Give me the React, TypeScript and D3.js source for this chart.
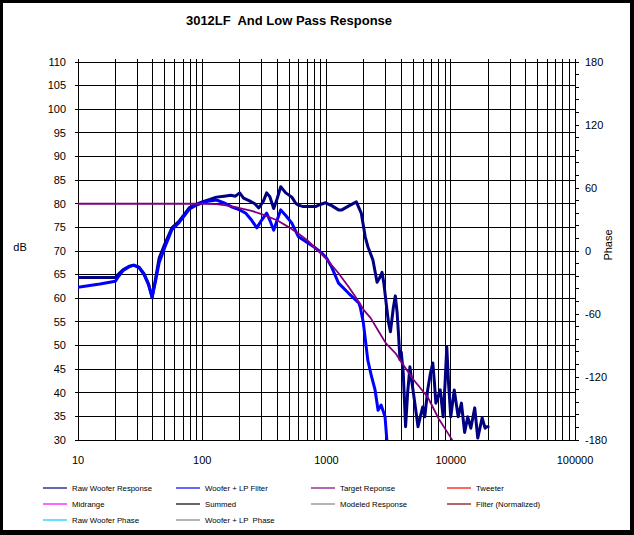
import React from "react";
import * as d3 from "d3";

if (typeof document !== "undefined") {
  document.body.style.margin = "0";
}

const W = 634;
const H = 535;

// ---------- data ----------
const rawWooferResponse: [number, number][] = [
  [10, 64.4], [20, 64.4], [21, 65], [23, 66], [26, 66.8], [28, 67], [31, 66.6], [34, 65.2],
  [37, 63], [39.5, 60.1], [42, 64], [45, 68.5], [50, 71.5], [57, 74.9], [65, 76.3], [72, 77.8],
  [79, 79.2], [88, 79.8], [100, 80.4], [115, 80.9], [130, 81.4], [150, 81.6], [170, 81.8],
  [185, 81.6], [200, 82.3], [215, 81.2], [240, 80.6], [265, 80], [285, 79.1], [310, 80.5],
  [330, 82.3], [350, 81.5], [376, 79], [400, 81], [428, 83.6], [470, 82.3], [526, 81.4],
  [565, 80.1], [595, 79.7], [650, 79.4], [750, 79.4], [815, 79.4], [900, 79.9], [982, 80.2],
  [1100, 79.6], [1250, 78.7], [1330, 78.7], [1500, 79.5], [1738, 80.4], [1905, 78], [2050, 73],
  [2154, 70.9], [2364, 68.1], [2552, 63.4], [2700, 64.5], [2800, 65.5], [2900, 63], [3020, 59],
  [3150, 55], [3270, 52.9], [3450, 58], [3580, 60.5], [3700, 57], [3780, 53.3], [3900, 47],
  [4000, 48.6], [4150, 44], [4330, 32.8], [4500, 40], [4690, 45.5], [4880, 42], [5060, 39.1],
  [5250, 36], [5450, 32.8], [5700, 35], [5950, 37], [6180, 34.9], [6520, 40.6], [6850, 44],
  [7170, 46.3], [7400, 42], [7590, 37.8], [8230, 40.6], [8690, 34.9], [9000, 42], [9290, 49.7],
  [9600, 42], [10000, 34.9], [10670, 40.6], [11480, 34.9], [12190, 37.8], [12930, 31.6],
  [13700, 34.9], [14500, 32.5], [15600, 36.8], [16500, 30.4], [17900, 34.7], [18900, 32.5],
  [19400, 32.8], [20000, 32.8],
];

const wooferLPFilter: [number, number][] = [
  [10, 62.3], [15, 63], [20, 63.6], [21, 64.5], [23, 65.8], [26, 66.7], [28, 67], [31, 66.5],
  [34, 65], [37, 62.8], [39.5, 60.3], [42, 63.5], [45, 67.5], [50, 70.8], [57, 74.5], [65, 76],
  [72, 77.5], [79, 78.9], [88, 79.6], [100, 80.2], [115, 80.6], [130, 80.8], [150, 80.2],
  [174, 79.3], [200, 78.7], [224, 78], [250, 76.5], [275, 74.9], [300, 76.5], [330, 78],
  [350, 76.5], [376, 74.4], [400, 76.5], [428, 78.7], [470, 77.5], [526, 75.9], [595, 73],
  [680, 72], [800, 70.8], [913, 69.6], [1000, 68.5], [1100, 66.6], [1250, 63.2], [1500, 61.1],
  [1820, 59], [1870, 58.1], [1980, 54.8], [2150, 46.9], [2300, 43.5], [2460, 40.6],
  [2600, 36.3], [2750, 37.4], [2960, 34.9], [3100, 28],
];

const targetResponse: [number, number][] = [
  [10, 80], [50, 80], [100, 80], [130, 79.9], [160, 79.6], [200, 79.1], [250, 78.5],
  [300, 77.8], [400, 76.5], [500, 75], [600, 73.6], [700, 72.3], [860, 70], [1000, 68.3],
  [1250, 65.3], [1500, 62.5], [1710, 60.3], [2000, 57.5], [2270, 55.8], [2700, 52.5],
  [3000, 50.5], [3580, 48.4], [4000, 46.5], [5000, 42.8], [6520, 39.1], [8000, 34.5],
  [10000, 30.5], [11000, 28.5],
];

const dbTicks = [30, 35, 40, 45, 50, 55, 60, 65, 70, 75, 80, 85, 90, 95, 100, 105, 110];
const phaseTicks = [-180, -120, -60, 0, 60, 120, 180];
const freqLabels = [10, 100, 1000, 10000, 100000];

const legendItems: { label: string; color: string }[] = [
  { label: "Raw Woofer Response", color: "#000080" },
  { label: "Woofer + LP Filter", color: "#0000FF" },
  { label: "Target Reponse", color: "#800080" },
  { label: "Tweeter", color: "#FF0000" },
  { label: "Midrange", color: "#FF00FF" },
  { label: "Summed", color: "#000000" },
  { label: "Modeled Response", color: "#808080" },
  { label: "Filter (Normalized)", color: "#800000" },
  { label: "Raw Woofer Phase", color: "#00CCFF" },
  { label: "Woofer + LP  Phase", color: "#808080" },
];

// ---------- layout ----------
const plot = { left: 78, right: 575, top: 62, bottom: 440 };
const FONT = "'Liberation Sans', Arial, sans-serif";

export default function App() {
  const x = d3.scaleLog().domain([10, 100000]).range([plot.left, plot.right]);
  const y = d3.scaleLinear().domain([30, 110]).range([plot.bottom, plot.top]);
  const yp = d3.scaleLinear().domain([-180, 180]).range([plot.bottom, plot.top]);

  const line = d3
    .line<[number, number]>()
    .x((d) => x(d[0]))
    .y((d) => y(d[1]));

  const vGrid: number[] = [];
  for (let dec = 10; dec < 100000; dec *= 10) {
    for (let m = 1; m < 10; m++) vGrid.push(dec * m);
  }
  vGrid.push(100000);

  const phaseMinor: number[] = d3.range(-180, 181, 12);

  const legendCols = [43, 176, 311, 447];
  const legendRows = [488, 504, 520];

  return (
    <svg width={W} height={H} style={{ display: "block" }} fontFamily={FONT}>
      <rect x={0} y={0} width={W} height={H} fill="#000" />
      <rect x={3} y={3} width={627} height={527} fill="#fff" />

      <text x={289} y={25} textAnchor="middle" fontSize={13} fontWeight="bold" fill="#000" xmlSpace="preserve" style={{ whiteSpace: "pre" }}>
        {"3012LF  And Low Pass Response"}
      </text>

      <g stroke="#000" strokeWidth={1} shapeRendering="crispEdges">
        {dbTicks.map((t) => (
          <line key={"h" + t} x1={plot.left - 3} x2={plot.right} y1={y(t)} y2={y(t)} />
        ))}
        {vGrid.map((f) => (
          <line key={"v" + f} x1={x(f)} x2={x(f)} y1={plot.top - 3} y2={plot.bottom} />
        ))}
        {phaseMinor.map((p) => (
          <line key={"p" + p} x1={plot.right} x2={plot.right + 4} y1={yp(p)} y2={yp(p)} />
        ))}
      </g>

      <g fontSize={11} fill="#000">
        {dbTicks.map((t) => (
          <text key={"l" + t} x={66} y={y(t)} dy="0.35em" textAnchor="end">
            {t}
          </text>
        ))}
        {phaseTicks.map((p) => (
          <text key={"r" + p} x={585} y={yp(p)} dy="0.35em" textAnchor="start">
            {p}
          </text>
        ))}
        {freqLabels.map((f) => (
          <text key={"f" + f} x={x(f)} y={460} dy="0.35em" textAnchor="middle">
            {f}
          </text>
        ))}
        <text x={20} y={247} dy="0.35em" textAnchor="middle">
          dB
        </text>
        <text x={608} y={245} dy="0.35em" textAnchor="middle" transform="rotate(-90 608 245)">
          Phase
        </text>
      </g>

      <defs>
        <clipPath id="plotClip">
          <rect x={plot.left} y={plot.top} width={plot.right - plot.left} height={plot.bottom - plot.top} />
        </clipPath>
      </defs>
      <g clipPath="url(#plotClip)" fill="none" strokeLinejoin="round" strokeLinecap="round">
        <path d={line(rawWooferResponse) || ""} stroke="#000080" strokeWidth={3} />
        <path d={line(wooferLPFilter) || ""} stroke="#0000FF" strokeWidth={3} />
        <path d={line(targetResponse) || ""} stroke="#800080" strokeWidth={1.8} />
      </g>

      <g fontSize={7.8} fill="#000">
        {legendItems.map((it, i) => {
          const cx = legendCols[i % 4];
          const cy = legendRows[Math.floor(i / 4)];
          return (
            <g key={it.label}>
              <line x1={cx} x2={cx + 24} y1={cy} y2={cy} stroke={it.color} strokeWidth={1.2} />
              <text x={cx + 29} y={cy} dy="0.35em" style={{ whiteSpace: "pre" }}>
                {it.label}
              </text>
            </g>
          );
        })}
      </g>
    </svg>
  );
}
